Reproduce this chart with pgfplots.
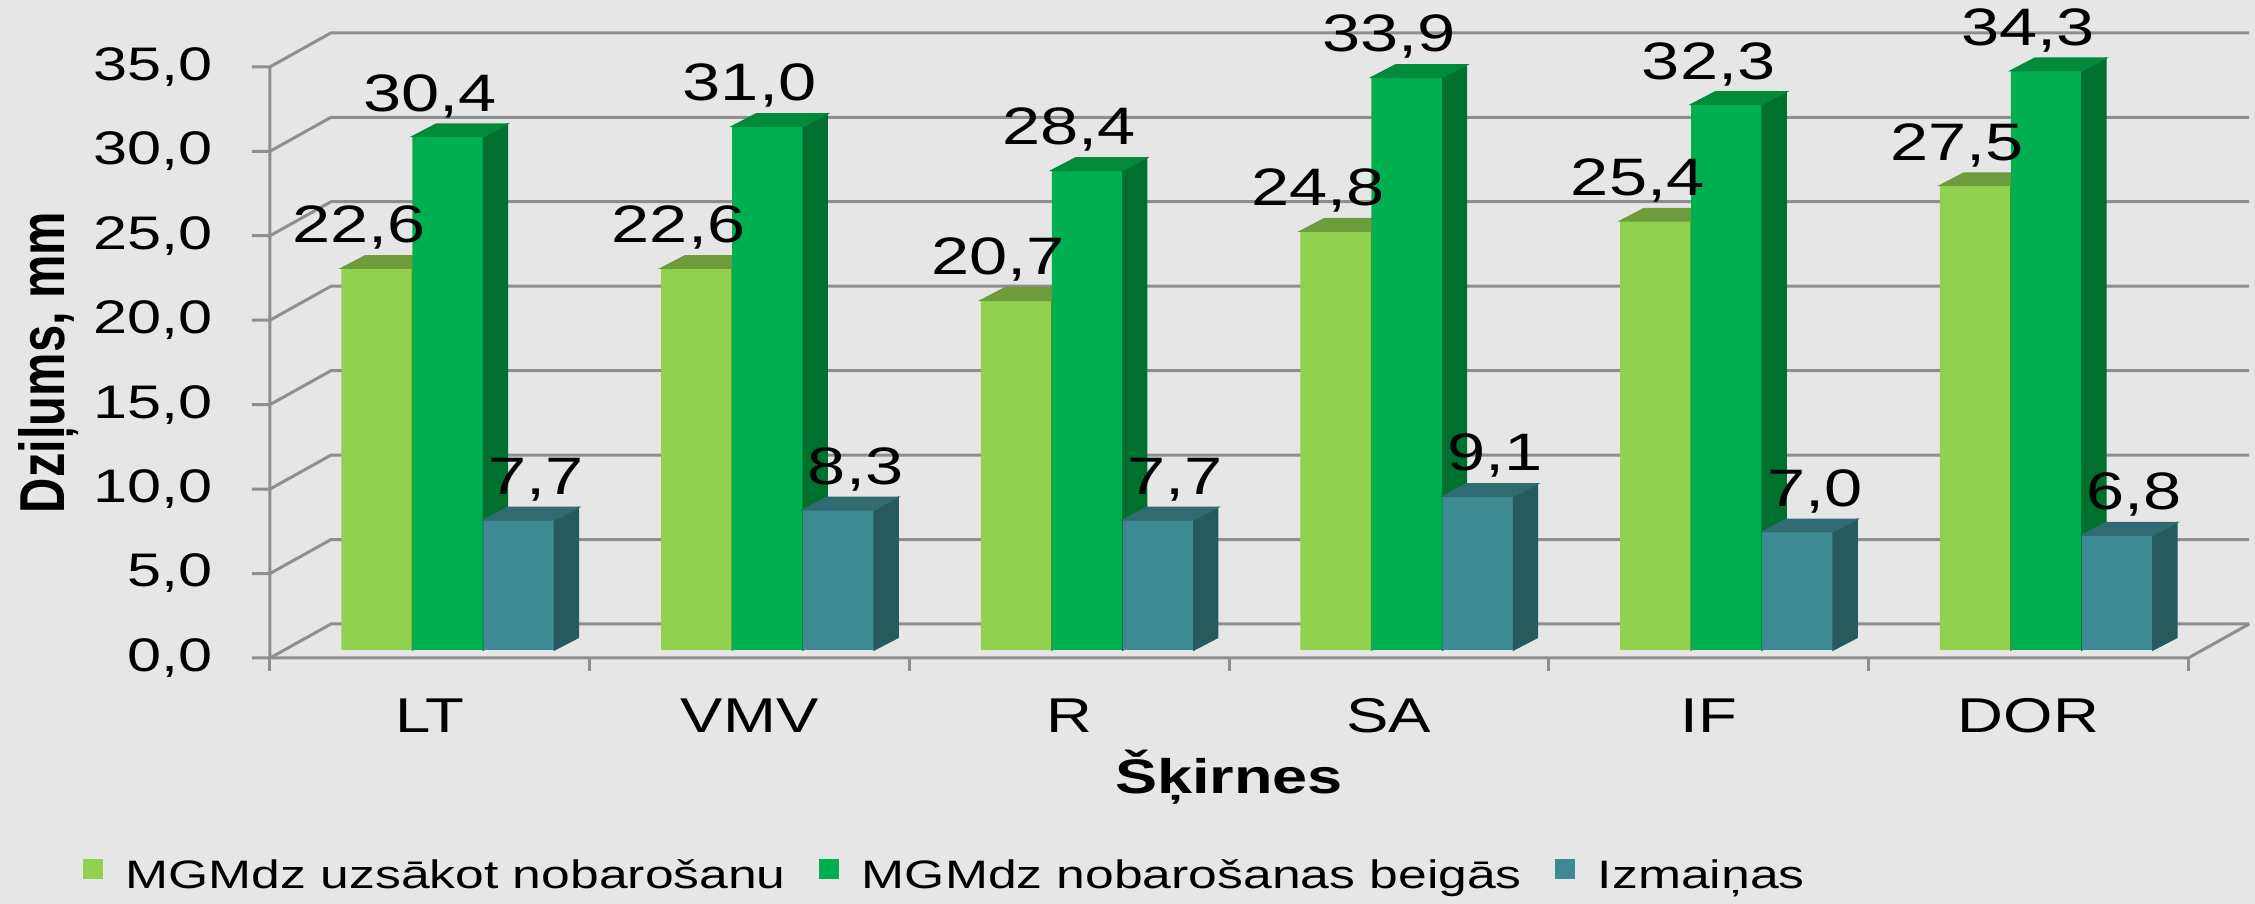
\documentclass[border=0pt]{standalone}
\usepackage{pgfplots}
\pgfplotsset{compat=1.18}
\usepackage{pgfplotstable}
\usepackage{graphicx}
\usepackage{fontspec}
\setmainfont{Liberation Sans}[FakeStretch=1.3]
\newfontfamily\ylabfont{Liberation Sans}

\definecolor{bg}{HTML}{E6E6E6}
\definecolor{frame}{HTML}{8E8E8E}
\definecolor{lgf}{HTML}{92D050}
\definecolor{lgtop}{HTML}{6E9C3A}
\definecolor{lgside}{HTML}{5F8A33}
\definecolor{dgf}{HTML}{00B050}
\definecolor{dgtop}{HTML}{008A3A}
\definecolor{dgside}{HTML}{00702E}
\definecolor{tlf}{HTML}{3D8A92}
\definecolor{tltop}{HTML}{2F6B70}
\definecolor{tlside}{HTML}{265A5E}

\pgfplotstableread{
x v1 v2 v3
0 22.6 30.4 7.7
1 22.6 31.0 8.3
2 20.7 28.4 7.7
3 24.8 33.9 9.1
4 25.4 32.3 7.0
5 27.5 34.3 6.8
}\datatab

% side and top faces of a bar, drawn at the data point of the bar top
\newcommand\sidetop[3]{%
  \pgfmathsetlengthmacro\barh{\hv*1.689mm}%
  \fill[#3] (#1+3.55mm,0.8mm) -- ++(2.4mm,1.25mm) -- ++(0pt,-\barh) -- ++(-2.4mm,-1.25mm) -- cycle;
  \fill[#2] (#1-3.55mm,0.8mm) -- ++(2.4mm,1.25mm) -- ++(7.1mm,0pt) -- ++(-2.4mm,-1.25mm) -- cycle;
}

\begin{document}
\begin{tikzpicture}
\path[use as bounding box, fill=bg] (-27mm,-24.6mm) rectangle (198.5mm,65.8mm);
\begin{axis}[
  at={(0,0)}, anchor=south west,
  x=31.97mm, y=1.689mm,
  xmin=-0.5, xmax=5.5, ymin=0, ymax=35,
  clip=false,
  clip marker paths=true,
  axis line style={draw=none},
  tick style={draw=none},
  xtick={0,...,5},
  xticklabels={LT,VMV,R,SA,IF,DOR},
  ytick={0,5,...,35},
  xticklabel style={font=\fontsize{13.9}{16}\selectfont, anchor=base, inner sep=0pt, yshift=-7.5mm},
  yticklabel style={font=\fontsize{13.4}{16}\selectfont, anchor=east, inner sep=0pt, xshift=-5.7mm},
  /pgf/number format/fixed,
  /pgf/number format/fixed zerofill,
  /pgf/number format/precision=1,
  /pgf/number format/use comma,
  /pgf/number format/assume math mode=true,
  xlabel={Šķirnes},
  ylabel={\scalebox{1}[1.3]{Dziļums, mm}},
  every axis x label/.style={at={(axis description cs:0.5,-0.2284)}, anchor=base, inner sep=0pt, font=\bfseries\fontsize{13.8}{16}\selectfont},
  every axis y label/.style={at={(axis description cs:-0.1069,0.5)}, rotate=90, anchor=base, inner sep=0pt, font=\ylabfont\bfseries\fontsize{13.9}{16}\selectfont},
  legend style={at={(axis description cs:-0.098,-0.3706)}, anchor=west, draw=none, fill=none, inner sep=0pt,
    legend columns=-1, font=\fontsize{11.3}{14}\selectfont,
    /tikz/every odd column/.append style={column sep=1.6mm},
    /tikz/every even column/.append style={column sep=2.6mm}},
  nodes near coords style={font=\fontsize{15}{18}\selectfont, inner sep=0pt},
]
% ---- 3D frame: side wall, back wall grid, floor ----
\pgfplotsinvokeforeach{0,5,...,35}{
  \draw[frame, line width=0.3mm, line join=round]
    ([xshift=-1.8mm]axis cs:-0.5,#1) -- (axis cs:-0.5,#1)
    -- ([shift={(6.1mm,3.4mm)}]axis cs:-0.5,#1)
    -- ([shift={(6.1mm,3.4mm)}]axis cs:5.5,#1);
}
\draw[frame, line width=0.3mm, line join=round]
  (axis cs:-0.5,35) -- (axis cs:-0.5,0) -- (axis cs:5.5,0)
  -- ([shift={(6.1mm,3.4mm)}]axis cs:5.5,0);
\pgfplotsinvokeforeach{-0.5,0.5,...,5.5}{
  \draw[frame, line width=0.3mm] (axis cs:#1,0) -- ([yshift=-1.3mm]axis cs:#1,0);
}

% ---- series 1 ----
\addplot[ybar, bar width=0.2221, bar shift=-0.1658, fill=lgf, draw=none, yshift=0.8mm,
  legend image code/.code={\fill[lgf] (0mm,-1mm) rectangle (2mm,1mm);}]
  table[x=x,y=v1]{\datatab};
\addlegendentry{MGMdz uzsākot nobarošanu}
\addplot[forget plot, scatter, only marks, mark=*, mark size=0pt, mark options={draw=none,fill=none},
  visualization depends on={rawy \as \hv},
  scatter/@pre marker code/.code={\sidetop{-5.30mm}{lgtop}{lgside}},
  scatter/@post marker code/.code={}]
  table[x=x,y=v1]{\datatab};

% ---- series 2 ----
\addplot[ybar, bar width=0.2221, bar shift=0.0563, fill=dgf, draw=none, yshift=0.8mm,
  legend image code/.code={\fill[dgf] (0mm,-1mm) rectangle (2mm,1mm);}]
  table[x=x,y=v2]{\datatab};
\addlegendentry{MGMdz nobarošanas beigās}
\addplot[forget plot, scatter, only marks, mark=*, mark size=0pt, mark options={draw=none,fill=none},
  visualization depends on={rawy \as \hv},
  scatter/@pre marker code/.code={\sidetop{1.80mm}{dgtop}{dgside}},
  scatter/@post marker code/.code={}]
  table[x=x,y=v2]{\datatab};

% ---- series 3 ----
\addplot[ybar, bar width=0.2221, bar shift=0.2784, fill=tlf, draw=none, yshift=0.8mm,
  legend image code/.code={\fill[tlf] (0mm,-1mm) rectangle (2mm,1mm);}]
  table[x=x,y=v3]{\datatab};
\addlegendentry{Izmaiņas}
\addplot[forget plot, scatter, only marks, mark=*, mark size=0pt, mark options={draw=none,fill=none},
  visualization depends on={rawy \as \hv},
  scatter/@pre marker code/.code={\sidetop{8.90mm}{tltop}{tlside}},
  scatter/@post marker code/.code={}]
  table[x=x,y=v3]{\datatab};

% ---- value labels ----
\addplot[forget plot, only marks, mark=*, mark size=0pt, mark options={draw=none,fill=none},
  nodes near coords, nodes near coords style={xshift=-7.1mm, yshift=2.6mm}]
  table[x=x,y=v1]{\datatab};
\addplot[forget plot, only marks, mark=*, mark size=0pt, mark options={draw=none,fill=none},
  nodes near coords, nodes near coords style={xshift=0mm, yshift=2.6mm}]
  table[x=x,y=v2]{\datatab};
\addplot[forget plot, only marks, mark=*, mark size=0pt, mark options={draw=none,fill=none},
  nodes near coords, nodes near coords style={xshift=10.6mm, yshift=2.6mm}]
  table[x=x,y=v3]{\datatab};
\end{axis}
\end{tikzpicture}
\end{document}
